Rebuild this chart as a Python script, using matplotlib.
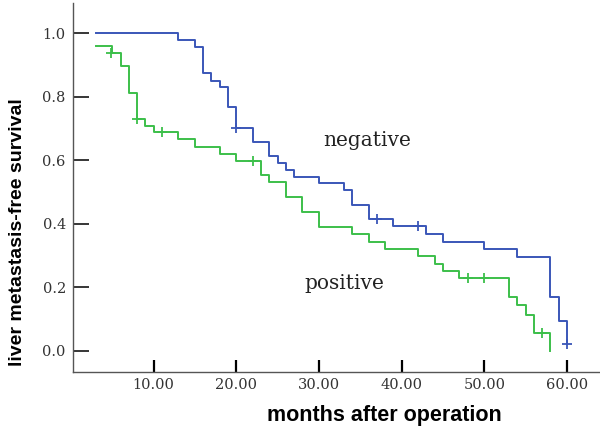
"""Curva de Kaplan-Meier: supervivencia libre de metástasis hepática (negative / positive)."""

import matplotlib

matplotlib.use("Agg")
import matplotlib.pyplot as plt

# datos (meses, supervivencia tras cada evento)
neg_t = [3, 13, 15, 16, 17, 18, 19, 20, 22, 24, 25, 26, 27, 30, 33, 34, 36, 39, 43, 45, 50, 54, 58, 59, 60]
neg_s = [1.0, 0.979, 0.958, 0.874, 0.851, 0.830, 0.767, 0.701, 0.659, 0.614, 0.591, 0.570, 0.549,
         0.528, 0.507, 0.460, 0.415, 0.393, 0.367, 0.344, 0.320, 0.297, 0.171, 0.095, 0.021]
neg_cens_t = [20, 37, 42, 60]
neg_cens_s = [0.701, 0.415, 0.393, 0.021]

pos_t = [3, 5, 6, 7, 8, 9, 10, 13, 15, 18, 20, 23, 24, 26, 28, 30, 34, 36, 38, 42, 44, 45, 47,
         53, 54, 55, 56, 58]
pos_s = [0.960, 0.939, 0.897, 0.813, 0.730, 0.708, 0.688, 0.666, 0.643, 0.620, 0.598, 0.554, 0.532,
         0.484, 0.438, 0.391, 0.367, 0.344, 0.321, 0.299, 0.274, 0.253, 0.231, 0.171, 0.145, 0.113,
         0.058, 0.0]
pos_cens_t = [4.8, 8, 11, 22, 48, 50, 57]
pos_cens_s = [0.939, 0.730, 0.688, 0.598, 0.231, 0.231, 0.058]

xticks = [10, 20, 30, 40, 50, 60]
yticks = [0.0, 0.2, 0.4, 0.6, 0.8, 1.0]

C_NEG = "#3a56b8"
C_POS = "#3cbf4a"
SERIF = "DejaVu Serif"

fig = plt.figure(figsize=(6.0, 4.32), dpi=100)
ax = fig.add_axes([0.1212, 0.139, 0.8788, 0.854])

ax.step(neg_t, neg_s, where="post", color=C_NEG, lw=1.4)
ax.step(pos_t, pos_s, where="post", color=C_POS, lw=1.4)
ax.plot(neg_cens_t, neg_cens_s, "+", color=C_NEG, ms=7, mew=1.3)
ax.plot(pos_cens_t, pos_cens_s, "+", color=C_POS, ms=7, mew=1.3)

ax.text(30.5, 0.662, "negative", fontsize=14.5, family=SERIF, color="#222", va="center")
ax.text(28.3, 0.213, "positive", fontsize=14.5, family=SERIF, color="#222", va="center")

ax.set_xlim(0.22, 64.0)
ax.set_ylim(-0.066, 1.095)
ax.set_xticks(xticks)
ax.set_xticklabels([f"{v:.2f}" for v in xticks], family=SERIF, fontsize=10.5, color="#333")
ax.set_yticks(yticks)
ax.set_yticklabels([f"{v:.1f}" for v in yticks], family=SERIF, fontsize=10.5, color="#333")
ax.tick_params(axis="y", direction="in", length=11.5, width=1.1, pad=5, colors="black",
               labelcolor="#333")
ax.tick_params(axis="x", direction="in", length=8.6, width=1.6, pad=4, colors="black",
               labelcolor="#333")
for side in ("top", "right"):
    ax.spines[side].set_visible(False)
for side in ("left", "bottom"):
    ax.spines[side].set_color("#555")
    ax.spines[side].set_linewidth(1.0)

fig.text(18 / 600, 1 - 232 / 432, "liver metastasis-free survival", rotation=90,
         ha="center", va="center", fontsize=14, fontweight="bold", family="Liberation Sans")
fig.text(384 / 600, 1 - 415 / 432, "months after operation", ha="center", va="center",
         fontsize=15.5, fontweight="bold", family="Liberation Sans")

fig.savefig("out.png", dpi=100)
